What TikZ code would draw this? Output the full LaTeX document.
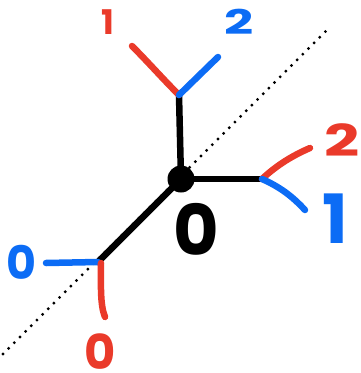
\documentclass[tikz,border=0pt]{standalone}
\usepackage{fontspec}
\setmainfont{Poppins}
\definecolor{hred}{RGB}{234,58,42}
\definecolor{hblue}{RGB}{12,108,245}
\begin{document}
\begin{tikzpicture}[x=1pt,y=-1pt,
  stroke/.style={line width=6.5pt,line cap=round,line join=round},
  blk/.style={stroke,black},
  rd/.style={stroke,hred},
  bl/.style={stroke,hblue},
  dig/.style={inner sep=0pt},
  dotline/.style={line width=3.2pt,line cap=round,dash pattern=on 0pt off 8pt}]
\useasboundingbox (0,0) rectangle (360,373);
% dotted diagonal
\coordinate (d1) at (3,354);
\coordinate (d2) at (331,26);
\draw[dotline] (d1) -- (d2);
% vertices
\coordinate (C) at (181,179);
\coordinate (T) at (179,95);
\coordinate (R) at (262,179);
\coordinate (L) at (98,262);
% ends
\coordinate (T1) at (132,46);
\coordinate (T2) at (218,57);
\coordinate (R2) at (310,148);
\coordinate (R1) at (305,210);
\coordinate (L0b) at (46,263);
\coordinate (L0r) at (105,317);
\draw[blk] (C) -- (T);
\draw[blk] (C) -- (R);
\draw[blk] (C) -- (L);
\fill (C) circle (13.5);
\draw[rd] (T) .. controls (162,78) and (148,62) .. (T1);
\draw[bl] (T) -- (T2);
\draw[rd] (R) .. controls (278,164) and (294,155) .. (R2);
\draw[bl] (R) .. controls (280,187) and (292,196) .. (R1);
\draw[bl] (L) -- (L0b);
\draw[rd] (101,263) .. controls (101,285) and (100,305) .. (L0r);
% labels
\node[dig,hred,font=\bfseries\fontsize{34}{34}\selectfont] (t1) at (108,22) {1};
\node[dig,hblue,xscale=1.5,font=\bfseries\fontsize{34}{34}\selectfont] (t2) at (239,22) {2};
\node[dig,hred,xscale=1.4,font=\bfseries\fontsize{44}{44}\selectfont] (r2) at (342,140) {2};
\node[dig,hblue,font=\bfseries\fontsize{68}{68}\selectfont] (r1) at (335,219) {1};
\node[dig,hblue,font=\bfseries\fontsize{46}{46}\selectfont] (l0) at (21,262) {0};
\node[dig,hred,font=\bfseries\fontsize{48}{48}\selectfont] (b0) at (100,352) {0};
\node[dig,black,font=\bfseries\fontsize{70}{70}\selectfont] (c0) at (196,229) {0};
\end{tikzpicture}
\end{document}
